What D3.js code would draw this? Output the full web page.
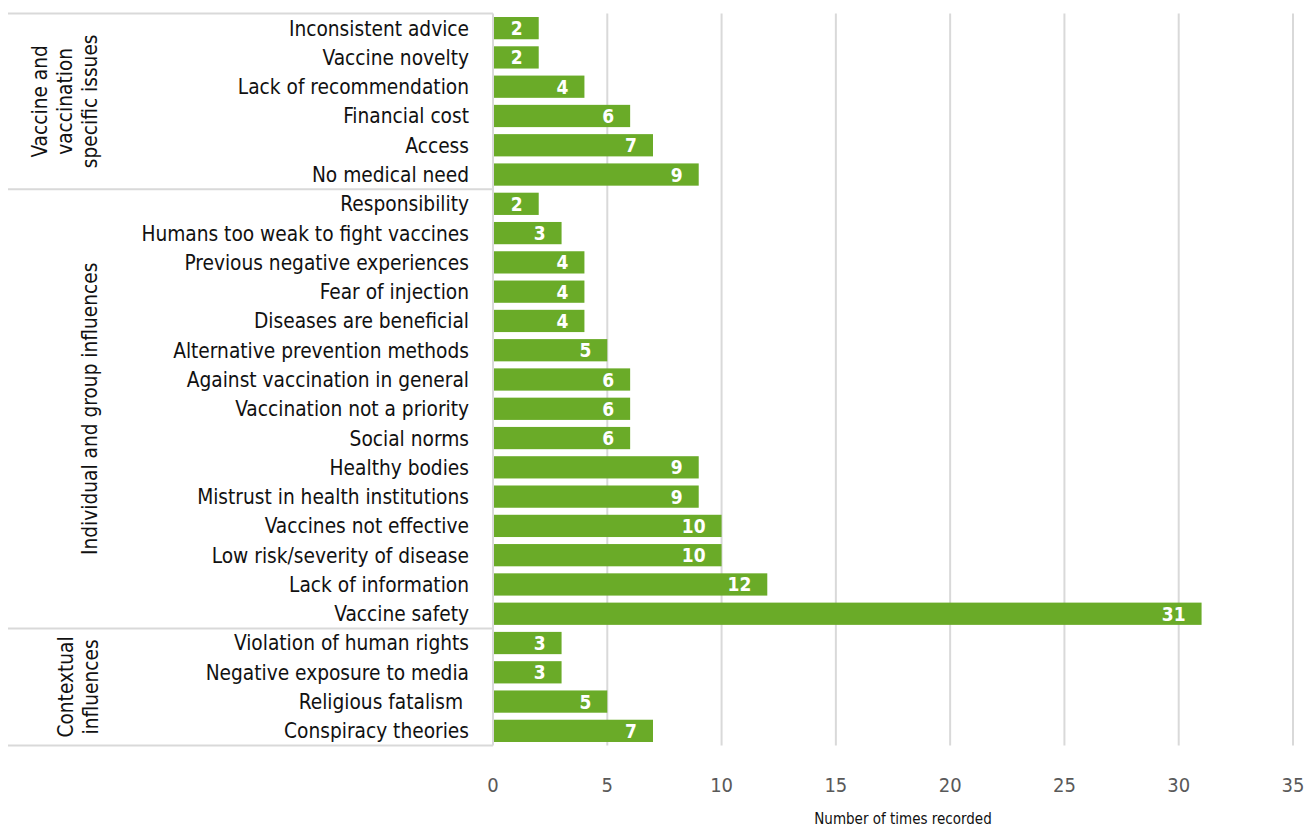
<!DOCTYPE html>
<html>
<head>
<meta charset="utf-8">
<script src="https://cdn.jsdelivr.net/npm/d3@7"></script>
<style>
body { margin: 0; background: #fff; }
text { font-family: "DejaVu Sans Condensed", "DejaVu Sans", sans-serif; }
</style>
</head>
<body>
<svg id="chart"></svg>
<script>
var categories = ["Inconsistent advice", "Vaccine novelty", "Lack of recommendation", "Financial cost", "Access", "No medical need",
  "Responsibility", "Humans too weak to fight vaccines", "Previous negative experiences", "Fear of injection", "Diseases are beneficial",
  "Alternative prevention methods", "Against vaccination in general", "Vaccination not a priority", "Social norms", "Healthy bodies",
  "Mistrust in health institutions", "Vaccines not effective", "Low risk/severity of disease", "Lack of information", "Vaccine safety",
  "Violation of human rights", "Negative exposure to media", "Religious fatalism ", "Conspiracy theories"];
var values = [2, 2, 4, 6, 7, 9, 2, 3, 4, 4, 4, 5, 6, 6, 6, 9, 9, 10, 10, 12, 31, 3, 3, 5, 7];
var groups = [["Vaccine and", "vaccination", "specific issues"], ["Individual and group influences"], ["Contextual", "influences"]];
var groupSizes = [6, 15, 4];
var ticks = [0, 5, 10, 15, 20, 25, 30, 35];

var width = 1315, height = 829;
var plotLeft = 493, plotRight = 1293, plotTop = 13.5, plotBottom = 745.5;

var svg = d3.select("#chart").attr("width", width).attr("height", height);

var x = d3.scaleLinear().domain([0, 35]).range([plotLeft, plotRight]);
var y = d3.scaleBand().domain(categories).range([plotTop, plotBottom]).paddingInner(0.24).paddingOuter(0.12);

// grid
svg.selectAll(".grid").data(ticks.slice(1)).enter().append("line")
  .attr("x1", function(d) { return x(d); }).attr("x2", function(d) { return x(d); })
  .attr("y1", plotTop).attr("y2", plotBottom)
  .attr("stroke", "#d9d9d9").attr("stroke-width", 2);

// bars
svg.selectAll(".bar").data(values).enter().append("rect")
  .attr("x", x(0))
  .attr("y", function(d, i) { return y(categories[i]); })
  .attr("width", function(d) { return x(d) - x(0); })
  .attr("height", y.bandwidth())
  .attr("fill", "#6aab28");

svg.selectAll(".val").data(values).enter().append("text")
  .attr("x", function(d) { return x(d) - 16; })
  .attr("y", function(d, i) { return y(categories[i]) + y.bandwidth() / 2; })
  .attr("dy", "0.37em")
  .attr("text-anchor", "end")
  .attr("fill", "#fff")
  .attr("font-weight", "bold")
  .attr("font-size", 19)
  .text(function(d) { return d; });

// category labels
svg.selectAll(".cat").data(categories).enter().append("text")
  .attr("x", 469)
  .attr("y", function(d) { return y(d) + y.bandwidth() / 2; })
  .attr("dy", "0.36em")
  .attr("text-anchor", "end")
  .attr("fill", "#111")
  .attr("font-size", 20.7)
  .style("white-space", "pre")
  .text(function(d) { return d; });

// group boxes
var step = y.step();
var bounds = [plotTop];
var acc = 0;
groupSizes.forEach(function(n) { acc += n; bounds.push(plotTop + acc * step); });

svg.selectAll(".sep").data(bounds).enter().append("line")
  .attr("x1", 8).attr("x2", plotLeft)
  .attr("y1", function(d) { return d; }).attr("y2", function(d) { return d; })
  .attr("stroke", "#d9d9d9").attr("stroke-width", 2);

svg.append("line")
  .attr("x1", plotLeft).attr("x2", plotLeft).attr("y1", plotTop).attr("y2", plotBottom)
  .attr("stroke", "#d9d9d9").attr("stroke-width", 2);

var gx = [65, 90, 78];
groups.forEach(function(lines, i) {
  var cy = (bounds[i] + bounds[i + 1]) / 2;
  var g = svg.append("g").attr("transform", "translate(" + gx[i] + "," + cy + ") rotate(-90)");
  var lh = 25;
  lines.forEach(function(t, j) {
    g.append("text")
      .attr("x", 0)
      .attr("y", (j - (lines.length - 1) / 2) * lh)
      .attr("dy", "0.36em")
      .attr("text-anchor", "middle")
      .attr("font-size", 20.7)
      .attr("fill", "#111")
      .text(t);
  });
});

// x axis tick labels
svg.selectAll(".tick").data(ticks).enter().append("text")
  .attr("x", function(d) { return x(d); })
  .attr("y", 792)
  .attr("text-anchor", "middle")
  .attr("fill", "#595959")
  .attr("font-size", 20)
  .text(function(d) { return d; });

svg.append("text")
  .attr("x", 903).attr("y", 824)
  .attr("text-anchor", "middle")
  .attr("font-size", 15)
  .attr("fill", "#111")
  .text("Number of times recorded");
</script>
</body>
</html>
